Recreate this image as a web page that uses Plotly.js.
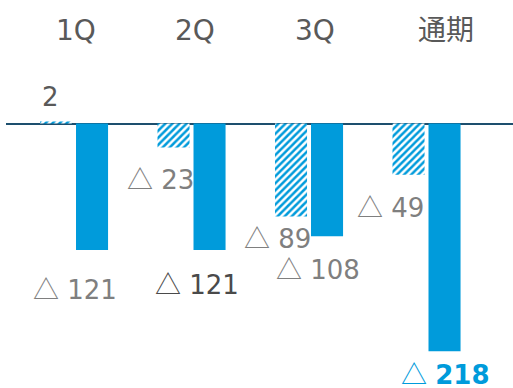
<!DOCTYPE html>
<html>
<head>
<meta charset="utf-8">
<script src="https://cdn.plot.ly/plotly-3.0.1.min.js"></script>
<style>html,body{margin:0;padding:0;background:#fff;}#chart{width:513px;height:388px;}</style>
</head>
<body>
<div id="chart"></div>
<script>
const categories = ['1Q', '2Q', '3Q', '通期'];
const prevValues = [2, -23, -89, -49];        // hatched bars
const currValues = [-121, -121, -108, -218];  // solid bars
const prevLabels = ['2', '△ 23', '△ 89', '△ 49'];
const currLabels = ['△ 121', '△ 121', '△ 108', '△ 218'];

const BLUE = '#009bdb';
const FONT = 'DejaVu Sans, Noto Sans CJK JP, sans-serif';

function tri(s) {
  return s.replace('△', '<span style="font-family:Noto Sans CJK JP">△</span>');
}

const traces = [
  {
    type: 'bar', x: categories, y: prevValues,
    marker: {color: 'white', line: {width: 0},
      pattern: {shape: '/', fgcolor: BLUE, bgcolor: 'white', size: 5, solidity: 0.5}},
    hoverinfo: 'skip'
  },
  {
    type: 'bar', x: categories, y: currValues,
    marker: {color: BLUE, line: {width: 0}},
    hoverinfo: 'skip'
  }
];

const annotations = [];
// category headers
const catShift = [2, 3.5, 6, 19.5];
categories.forEach((c, i) => {
  annotations.push({x: c, xref: 'x', y: 1 - 31 / 388, yref: 'paper', yanchor: 'middle', xanchor: 'center',
    text: c, showarrow: false, xshift: catShift[i],
    font: {family: FONT, size: 28, color: '#595959'}});
});
// labels for hatched bars
const prevShift = [[-24, 24], [-31.5, -29.5], [-32, -19.5], [-36.5, -31]];
const prevColors = ['#595959', '#7f7f7f', '#7f7f7f', '#7f7f7f'];
categories.forEach((c, i) => {
  annotations.push({x: c, xref: 'x', y: prevValues[i], yref: 'y', xanchor: 'center', yanchor: 'middle',
    text: tri(prevLabels[i]), showarrow: false, xshift: prevShift[i][0], yshift: prevShift[i][1],
    font: {family: FONT, size: 26, color: prevColors[i]}});
});
const currShift = [[1, -38], [5.5, -33], [9, -31.6], [18.5, -21.5]];
const currColors = ['#7f7f7f', '#4a4a4a', '#7f7f7f', BLUE];
categories.forEach((c, i) => {
  const bold = i === 3;
  let t = tri(currLabels[i]);
  if (bold) t = t.replace(/(\d+)$/, '<b>$1</b>');
  annotations.push({x: c, xref: 'x', y: currValues[i], yref: 'y', xanchor: 'center', yanchor: 'middle',
    text: t, showarrow: false, xshift: currShift[i][0], yshift: currShift[i][1],
    font: {family: FONT, size: 26, color: currColors[i]}});
});

const layout = {
  width: 513, height: 388,
  margin: {l: 6, r: 0, t: 0, b: 0},
  paper_bgcolor: 'white', plot_bgcolor: 'white',
  showlegend: false,
  barmode: 'group', bargap: 0.387, bargroupgap: 0.11,
  xaxis: {type: 'category', range: [-0.579, 3.736], showgrid: false, showticklabels: false,
    zeroline: false, showline: false, ticks: ''},
  yaxis: {range: [-253.1, 118.2], showgrid: false, showticklabels: false,
    zeroline: true, zerolinecolor: '#1d4f6e', zerolinewidth: 2, showline: false, ticks: ''},
  annotations: annotations
};

Plotly.newPlot('chart', traces, layout, {displayModeBar: false, staticPlot: true});
</script>
</body>
</html>
